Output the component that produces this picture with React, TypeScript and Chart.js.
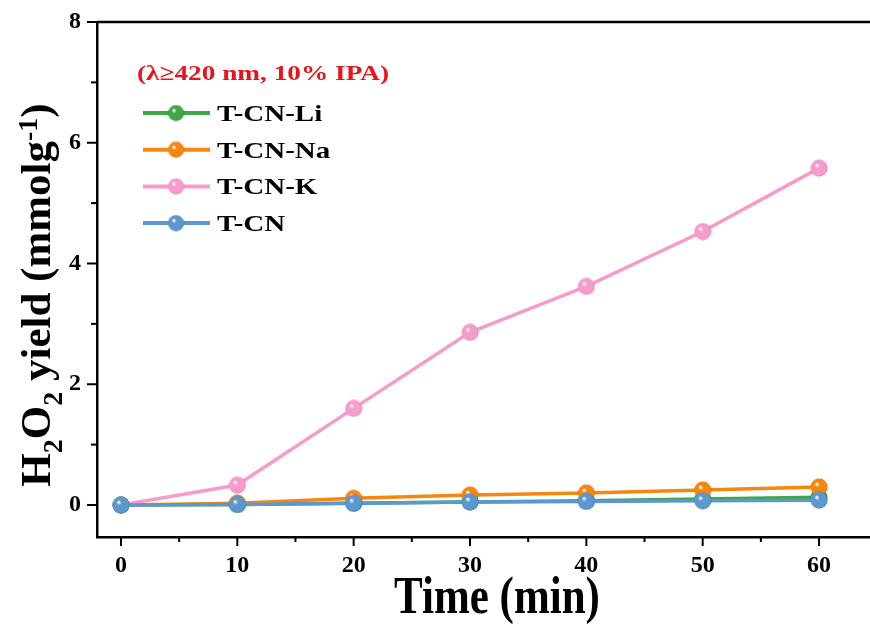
import React, { useEffect, useRef } from "react";
import { Chart, registerables } from "chart.js";

Chart.register(...registerables);

const times = [0, 10, 20, 30, 40, 50, 60];
const seriesNames = ["T-CN-Li", "T-CN-Na", "T-CN-K", "T-CN"];
const liValues = [0, 0.01, 0.03, 0.05, 0.07, 0.1, 0.13];
const naValues = [0, 0.03, 0.11, 0.165, 0.2, 0.25, 0.3];
const kValues = [0, 0.33, 1.6, 2.86, 3.62, 4.53, 5.58];
const cnValues = [0, 0.01, 0.03, 0.05, 0.06, 0.07, 0.08];
const seriesColors = ["#3ca846", "#f5870e", "#f59ccc", "#5b98cf"];
const seriesDark = ["#1f7a2a", "#b85a00", "#d0649f", "#2f6aa3"];

const xMajorTicks = [0, 10, 20, 30, 40, 50, 60];
const xMinorTicks = [5, 15, 25, 35, 45, 55];
const yMajorTicks = [0, 2, 4, 6, 8];
const yMinorTicks = [1, 3, 5, 7];

const legendTitle = "(λ≥420 nm, 10% IPA)";
const xTitle = "Time (min)";

const FONT = "'Liberation Serif', 'Times New Roman', serif";

function makeBall(color: string, dark: string): HTMLCanvasElement {
  const size = 18;
  const c = document.createElement("canvas");
  c.width = size;
  c.height = size;
  const ctx = c.getContext("2d")!;
  const g = ctx.createRadialGradient(6.5, 6, 0.5, 9, 9, 9);
  g.addColorStop(0, "#ffffff");
  g.addColorStop(0.25, color);
  g.addColorStop(0.85, color);
  g.addColorStop(1, dark);
  ctx.fillStyle = g;
  ctx.beginPath();
  ctx.arc(9, 9, 8.5, 0, Math.PI * 2);
  ctx.fill();
  return c;
}

export default function App() {
  const ref = useRef<HTMLCanvasElement | null>(null);

  useEffect(() => {
    document.body.style.margin = "0";
    const canvas = ref.current!;
    const balls = seriesColors.map((c, i) => makeBall(c, seriesDark[i]));
    const valueSets = [liValues, naValues, kValues, cnValues];
    const orders = [3, 2, 1, 0];

    const datasets = seriesNames.map((name, i) => ({
      label: name,
      data: times.map((t, j) => ({ x: t, y: valueSets[i][j] })),
      borderColor: seriesColors[i],
      backgroundColor: seriesColors[i],
      borderWidth: 3.5,
      pointStyle: balls[i] as any,
      pointRadius: 8.5,
      order: orders[i],
      tension: 0,
    }));

    const decor = {
      id: "decor",
      afterDraw(chart: any) {
        const ctx = chart.ctx as CanvasRenderingContext2D;
        const { left, right, top, bottom } = chart.chartArea;
        const xs = chart.scales.x;
        const ys = chart.scales.y;
        ctx.save();
        ctx.strokeStyle = "#000";
        ctx.lineWidth = 2.5;
        ctx.beginPath();
        ctx.moveTo(left, top);
        ctx.lineTo(right, top);
        ctx.stroke();
        ctx.lineWidth = 2;
        xMajorTicks.forEach((v) => {
          const p = xs.getPixelForValue(v);
          ctx.beginPath();
          ctx.moveTo(p, bottom);
          ctx.lineTo(p, bottom + 9);
          ctx.stroke();
        });
        xMinorTicks.forEach((v) => {
          const p = xs.getPixelForValue(v);
          ctx.beginPath();
          ctx.moveTo(p, bottom);
          ctx.lineTo(p, bottom + 5);
          ctx.stroke();
        });
        yMajorTicks.forEach((v) => {
          const p = ys.getPixelForValue(v);
          ctx.beginPath();
          ctx.moveTo(left, p);
          ctx.lineTo(left - 10, p);
          ctx.stroke();
        });
        yMinorTicks.forEach((v) => {
          const p = ys.getPixelForValue(v);
          ctx.beginPath();
          ctx.moveTo(left, p);
          ctx.lineTo(left - 6, p);
          ctx.stroke();
        });
        ctx.restore();

        // x title (vertically stretched like the reference)
        ctx.save();
        ctx.fillStyle = "#000";
        ctx.font = `bold 43px ${FONT}`;
        ctx.textAlign = "center";
        ctx.textBaseline = "alphabetic";
        ctx.translate(497, 613);
        ctx.scale(1, 1.25);
        ctx.fillText(xTitle, 0, 0);
        ctx.restore();

        // y title with sub/superscripts
        ctx.save();
        const parts: [string, number][] = [
          ["H", 0],
          ["2", 1],
          ["O", 0],
          ["2", 1],
          [" yield (mmolg", 0],
          ["-1", -1],
          [")", 0],
        ];
        const big = 43;
        const small = 28;
        let total = 0;
        parts.forEach(([t, k]) => {
          ctx.font = `bold ${k === 0 ? big : small}px ${FONT}`;
          total += ctx.measureText(t).width;
        });
        ctx.translate(50, 295);
        ctx.rotate(-Math.PI / 2);
        ctx.fillStyle = "#000";
        ctx.textBaseline = "alphabetic";
        let x = -total / 2;
        parts.forEach(([t, k]) => {
          ctx.font = `bold ${k === 0 ? big : small}px ${FONT}`;
          const dy = k === 1 ? 12 : k === -1 ? -13 : 0;
          ctx.fillText(t, x, dy);
          x += ctx.measureText(t).width;
        });
        ctx.restore();

        // legend
        ctx.save();
        ctx.textBaseline = "alphabetic";
        ctx.textAlign = "left";
        ctx.fillStyle = "#e8141b";
        ctx.font = `bold 22px ${FONT}`;
        ctx.translate(137, 80);
        ctx.scale(1.24, 1);
        ctx.fillText(legendTitle, 0, 0);
        ctx.restore();
        chart.data.datasets.forEach((ds: any, i: number) => {
          const y = 113 + i * 36.7;
          ctx.save();
          ctx.strokeStyle = seriesColors[i];
          ctx.lineWidth = 4;
          ctx.beginPath();
          ctx.moveTo(143, y);
          ctx.lineTo(210, y);
          ctx.stroke();
          ctx.drawImage(balls[i], 176 - 8.5, y - 8.5, 17, 17);
          ctx.fillStyle = "#000";
          ctx.font = `bold 23px ${FONT}`;
          ctx.textBaseline = "alphabetic";
          ctx.translate(217, y + 8);
          ctx.scale(1.26, 1);
          ctx.fillText(ds.label, 0, 0);
          ctx.restore();
        });
      },
    };

    const chart = new Chart(canvas, {
      type: "line",
      data: { datasets: datasets as any },
      options: {
        animation: false,
        responsive: false,
        maintainAspectRatio: false,
        layout: { autoPadding: false, padding: { top: 22, right: 0, left: 0, bottom: 0 } },
        plugins: {
          legend: { display: false },
          tooltip: { enabled: false },
        },
        scales: {
          x: {
            type: "linear",
            min: -2.06,
            max: 64.38,
            afterBuildTicks: (s: any) => {
              s.ticks = xMajorTicks.map((v) => ({ value: v }));
            },
            afterFit: (s: any) => {
              s.height = 87;
              s.paddingLeft = 0;
              s.paddingRight = 0;
            },
            grid: { display: false },
            border: { display: true, color: "#000", width: 2.5 },
            ticks: {
              color: "#000",
              padding: 6,
              maxRotation: 0,
              autoSkip: false,
              font: { family: FONT, weight: "bold", size: 24 },
              callback: (v: any) => String(v),
            },
          },
          y: {
            type: "linear",
            min: -0.53,
            max: 8,
            afterBuildTicks: (s: any) => {
              s.ticks = yMajorTicks.map((v) => ({ value: v }));
            },
            afterFit: (s: any) => {
              s.width = 97;
              s.paddingTop = 0;
              s.paddingBottom = 0;
            },
            grid: { display: false },
            border: { display: true, color: "#000", width: 2.5 },
            ticks: {
              color: "#000",
              padding: 8,
              font: { family: FONT, weight: "bold", size: 24 },
              callback: (v: any) => String(v),
            },
          },
        },
      },
      plugins: [decor],
    });
    return () => chart.destroy();
  }, []);

  return (
    <div style={{ width: 870, height: 624, background: "#fff" }}>
      <canvas ref={ref} width={870} height={624} style={{ display: "block" }} />
    </div>
  );
}
